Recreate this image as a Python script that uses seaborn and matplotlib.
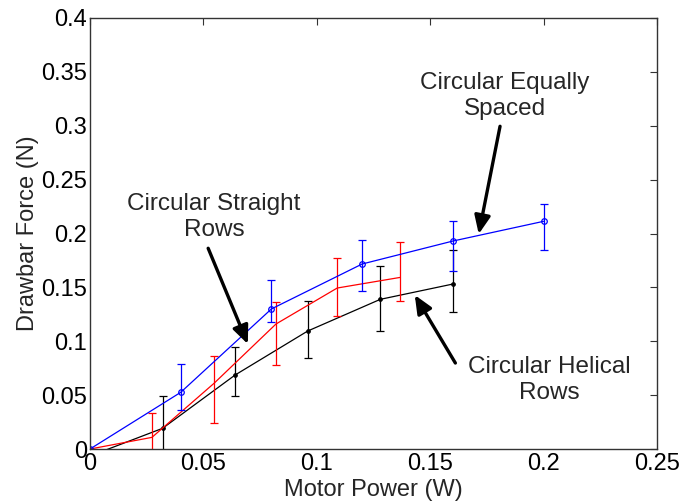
import numpy as np
import pandas as pd
import matplotlib
matplotlib.use('Agg')
import matplotlib.pyplot as plt
import seaborn as sns

# Circular Equally Spaced (blue, open circles)
blue_x = [0.0, 0.04, 0.08, 0.12, 0.16, 0.20]
blue_y = [0.0, 0.0526, 0.130, 0.1717, 0.193, 0.2113]
blue_lo = [0.0, 0.0359, 0.1177, 0.1464, 0.1652, 0.1847]
blue_hi = [0.0, 0.0787, 0.1566, 0.1943, 0.2115, 0.2271]

# Circular Straight Rows (red, no markers)
red_x = [0.0, 0.0273, 0.0547, 0.082, 0.109, 0.1366]
red_y = [0.0, 0.0108, 0.061, 0.116, 0.1494, 0.1592]
red_lo = [0.0, -0.012, 0.0244, 0.0777, 0.1237, 0.1378]
red_hi = [0.0, 0.0337, 0.0863, 0.1367, 0.1774, 0.1919]

# Circular Helical Rows (black, dots)
black_x = [0.0, 0.032, 0.064, 0.096, 0.128, 0.160]
black_y = [-0.0065, 0.0192, 0.0687, 0.1095, 0.1389, 0.1531]
black_lo = [-0.0065, -0.011, 0.0495, 0.0842, 0.1098, 0.1269]
black_hi = [-0.0065, 0.0495, 0.0944, 0.137, 0.1698, 0.1850]

x_ticks = [0, 0.05, 0.1, 0.15, 0.2, 0.25]
x_tick_labels = ['0', '0.05', '0.1', '0.15', '0.2', '0.25']
y_ticks = [0, 0.05, 0.1, 0.15, 0.2, 0.25, 0.3, 0.35, 0.4]
y_tick_labels = ['0', '0.05', '0.1', '0.15', '0.2', '0.25', '0.3', '0.35', '0.4']

sns.set_style("white")
plt.rcParams['font.family'] = ['Liberation Sans', 'DejaVu Sans']

fig = plt.figure(figsize=(6.86, 5.04), dpi=100)
ax = fig.add_axes([0.1312, 0.1091, 0.8265, 0.8552])

series = [
    (black_x, black_y, black_lo, black_hi, 'black', '.', 'full', 5),
    (red_x, red_y, red_lo, red_hi, 'red', None, 'full', 0),
    (blue_x, blue_y, blue_lo, blue_hi, 'blue', 'o', 'none', 4),
]
for xs, ys, lo, hi, col, mk, fill, ms in series:
    df = pd.DataFrame({'x': xs, 'y': ys})
    sns.lineplot(data=df, x='x', y='y', ax=ax, color=col, lw=0.9,
                 marker=mk, markersize=ms, markeredgecolor=col,
                 markerfacecolor=(col if fill == 'full' else 'none'),
                 markeredgewidth=0.9, sort=False, estimator=None)
    ys_a = np.array(ys)
    yerr = np.vstack([ys_a - np.array(lo), np.array(hi) - ys_a])
    ax.errorbar(xs[1:], ys[1:], yerr=yerr[:, 1:], fmt='none', ecolor=col,
                elinewidth=0.9, capsize=3.2, capthick=0.9)

ax.set_xlim(0, 0.25)
ax.set_ylim(0, 0.4)
ax.set_xticks(x_ticks)
ax.set_xticklabels(x_tick_labels)
ax.set_yticks(y_ticks)
ax.set_yticklabels(y_tick_labels)
ax.tick_params(direction='in', length=5, width=0.8, top=True, right=True,
               labelsize=17, pad=2, colors='#333333', labelcolor='black')
ax.tick_params(axis='x', pad=3)
for s in ax.spines.values():
    s.set_color('#333333')
    s.set_linewidth(1.0)
ax.set_xlabel('Motor Power (W)', fontsize=17, labelpad=3)
ax.set_ylabel('Drawbar Force (N)', fontsize=17, labelpad=2)

arrow = dict(arrowstyle='-|>,head_length=0.55,head_width=0.24', color='black',
             lw=2.4, mutation_scale=20, shrinkA=0, shrinkB=0)
ax.annotate('', xy=(0.1714, 0.1995), xytext=(0.1808, 0.2995), arrowprops=arrow)
ax.annotate('', xy=(0.0696, 0.0974), xytext=(0.0521, 0.1863), arrowprops=arrow)
ax.annotate('', xy=(0.1432, 0.1429), xytext=(0.1611, 0.0798), arrowprops=arrow)

ax.text(0.183, 0.3276, 'Circular Equally\nSpaced', ha='center', va='center',
        fontsize=17.5, linespacing=1.2)
ax.text(0.0547, 0.2153, 'Circular Straight\nRows', ha='center', va='center',
        fontsize=17.5, linespacing=1.2)
ax.text(0.2024, 0.064, 'Circular Helical\nRows', ha='center', va='center',
        fontsize=17.5, linespacing=1.2)

fig.savefig('out.png', dpi=100)
